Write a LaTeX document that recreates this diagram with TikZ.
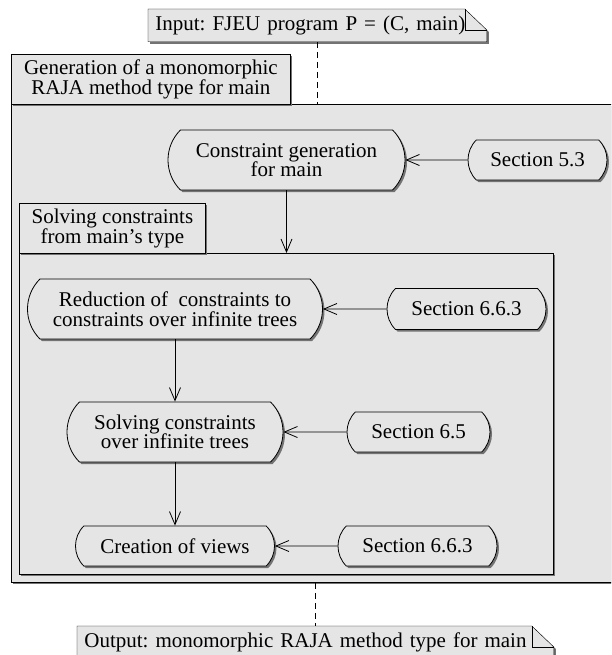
\documentclass[tikz,border=0pt]{standalone}
\usepackage{fontspec}
\setmainfont{Liberation Serif}
\usetikzlibrary{arrows.meta,shapes.misc,shadows,calc,backgrounds}
\definecolor{panelfill}{gray}{0.9}
\definecolor{shadowgray}{gray}{0.45}
\frenchspacing
\begin{document}
\begin{tikzpicture}[x=1pt,y=-1pt,
  font=\fontsize{21pt}{19.5pt}\selectfont,
  line width=0.8pt,
  boxshadow/.style={drop shadow={shadow xshift=2pt,shadow yshift=-2pt,fill=shadowgray,opacity=1}},
  panel/.style={draw,fill=panelfill,boxshadow,rectangle,anchor=north west,inner sep=0pt,align=center},
  action/.style={draw,fill=panelfill,boxshadow,rounded rectangle,rounded rectangle arc length=90,inner sep=0pt,align=center},
  notetext/.style={anchor=north west,inner xsep=7pt,inner ysep=0pt,minimum height=32pt,align=left},
  notefill/.style={fill=panelfill,draw,boxshadow,line join=miter},
  flow/.style={-{Straight Barb[length=13pt,width=11pt]}},
  trace/.style={dash pattern=on 6pt off 4pt}
]
\useasboundingbox (0,0) rectangle (611,655);
\clip (0,0) rectangle (611,655);

% activity panels
\node[panel,minimum width=619pt,minimum height=478pt] (genbody) at (11,104) {};
\node[panel,minimum width=279pt,minimum height=50pt] (genhead) at (11,54)
  {Generation of a monomorphic\\RAJA method type for main};
\node[panel,minimum width=534pt,minimum height=321pt] (solvbody) at (19,253) {};
\node[panel,minimum width=186pt,minimum height=50pt] (solvhead) at (19,203)
  {Solving constraints\\from main's type};

% actions
\node[action,minimum width=237pt,minimum height=60pt] (cg) at (286.5,160)
  {Constraint generation\\for main};
\node[action,minimum width=139pt,minimum height=40pt] (s53) at (537.5,160) {Section 5.3};
\node[action,minimum width=295pt,minimum height=60pt] (red) at (175,309)
  {Reduction of\ \ constraints to\\constraints over infinite trees};
\node[action,minimum width=159pt,minimum height=41pt] (s663a) at (466.5,309) {Section 6.6.3};
\node[action,minimum width=216pt,minimum height=60pt] (solv) at (175,432)
  {Solving constraints\\over infinite trees};
\node[action,minimum width=143pt,minimum height=40pt] (s65) at (418.5,432) {Section 6.5};
\node[action,minimum width=199pt,minimum height=40pt] (cre) at (175,546) {Creation of views};
\node[action,minimum width=159pt,minimum height=40pt] (s663b) at (417.5,546) {Section 6.6.3};

% control flow
\draw[flow] (s53) -- (cg);
\draw[flow] (cg.south) -- (cg.south |- solvbody.north);
\draw[flow] (s663a) -- (red);
\draw[flow] (red.south) -- (solv.north);
\draw[flow] (s65) -- (solv);
\draw[flow] (solv.south) -- (cre.north);
\draw[flow] (s663b) -- (cre);

% input and output notes
\node[notetext,text width=324pt] (input) at (148,9) {Input: FJEU program P = (C, main)};
\node[notetext,text width=462pt] (output) at (77,626) {Output: monomorphic RAJA method type for main};
\begin{scope}[on background layer]
  \foreach \n in {input,output}{
    \path[notefill] (\n.north west) -- ($(\n.north east)+(-22pt,0pt)$)
      -- ($(\n.north east)+(0pt,-21pt)$) -- (\n.south east) -- (\n.south west) -- cycle;
    \draw ($(\n.north east)+(-22pt,0pt)$) -- ($(\n.north east)+(-22pt,-21pt)$)
      -- ($(\n.north east)+(0pt,-21pt)$);
  }
\end{scope}
\draw[trace] (input.south) -- (input.south |- genbody.north);
\draw[trace] (output.north |- genbody.south) -- (output.north);
\end{tikzpicture}
\end{document}
